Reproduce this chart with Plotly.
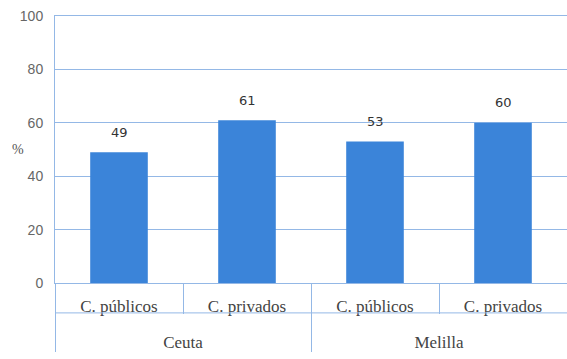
import plotly.graph_objects as go

groups = ["Ceuta", "Ceuta", "Melilla", "Melilla"]
centers = ["C. públicos", "C. privados", "C. públicos", "C. privados"]
values = [49, 61, 53, 60]
y_ticks = [0, 20, 40, 60, 80, 100]

BAR = "#3b84d9"
GRID = "#94b8e6"
FONT = "Liberation Serif"

# outer labels pushed one line lower to sit in the bottom row
group_labels = ["<br>" + g for g in groups]

fig = go.Figure()
fig.add_trace(go.Bar(
    x=[group_labels, centers],
    y=values,
    marker=dict(color=BAR, line=dict(width=0)),
    width=0.45,
    hoverinfo="skip",
))

for i, v in enumerate(values):
    fig.add_annotation(
        x=i, y=v, xref="x", yref="y",
        text=str(v), showarrow=False,
        yanchor="middle", yshift=20,
        font=dict(family="DejaVu Sans", size=13, color="#333333"),
    )

fig.add_annotation(
    x=-0.072, y=50, xref="paper", yref="y",
    xanchor="center", yanchor="middle",
    text="%", showarrow=False,
    font=dict(family=FONT, size=14, color="#555555"),
)

# horizontal separator between the two label rows
fig.add_shape(
    type="line", xref="paper", yref="paper",
    x0=0, x1=1, y0=-0.112, y1=-0.112,
    line=dict(color=GRID, width=1),
)

fig.update_layout(
    width=567, height=359,
    margin=dict(l=55, r=0, t=16, b=76, autoexpand=False),
    paper_bgcolor="white", plot_bgcolor="white",
    showlegend=False,
    bargap=0.55,
)

fig.update_xaxes(
    type="multicategory",
    automargin=False,
    showline=True, mirror=True, linecolor=GRID, linewidth=1,
    ticks="outside", ticklen=30, tickcolor=GRID, tickwidth=1,
    tickson="boundaries",
    ticklabelstandoff=8,
    showdividers=True, dividercolor=GRID, dividerwidth=1,
    tickfont=dict(family=FONT, size=17, color="#444444"),
    showgrid=False,
)

fig.update_yaxes(
    automargin=False,
    range=[0, 100],
    tickvals=y_ticks,
    showgrid=True, gridcolor=GRID, gridwidth=1,
    showline=True, linecolor=GRID, linewidth=1,
    zeroline=True, zerolinecolor=GRID, zerolinewidth=1,
    ticks="", ticklabelstandoff=8,
    tickfont=dict(family="Liberation Sans", size=14, color="#666666"),
)

fig.write_html(
    "out.html",
    config={"displayModeBar": False},
    post_script="document.body.style.margin='0px';",
)
